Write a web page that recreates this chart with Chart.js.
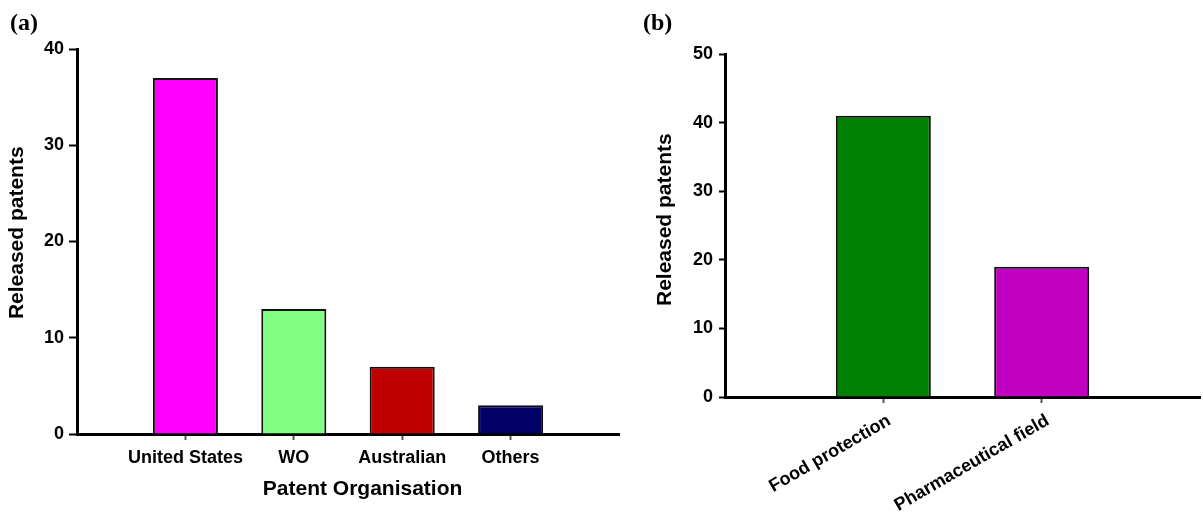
<!DOCTYPE html>
<html>
<head>
<meta charset="utf-8">
<script src="https://cdn.jsdelivr.net/npm/chart.js@4.4.1/dist/chart.umd.min.js"></script>
<style>
    body { margin: 0; background: #fff; }
    #wrap { position: relative; width: 1203px; height: 517px; overflow: hidden; }
    canvas { position: absolute; top: 0; }
    #chart-a { left: 0; }
    #chart-b { left: 640px; }
    .panel { position: absolute; top: 10px; font: bold 24px "Liberation Serif", "Times New Roman", serif; line-height: 24px; }
</style>
</head>
<body>
<div id="wrap">
    <canvas id="chart-a" width="640" height="517"></canvas>
    <canvas id="chart-b" width="563" height="517"></canvas>
    <div class="panel" style="left: 10px;">(a)</div>
    <div class="panel" style="left: 643px;">(b)</div>
</div>
<script>
var orgLabels = ["United States", "WO", "Australian", "Others"];
var orgValues = [37, 13, 7, 3];
var orgColors = ["#FF00FF", "#80FF80", "#C00000", "#000066"];

var fieldLabels = ["Food protection", "Pharmaceutical field"];
var fieldValues = [41, 19];
var fieldColors = ["#008000", "#C000C0"];

var font = "'Liberation Sans', Arial, sans-serif";

// blank slot before and after so the bars sit away from the axis ends
function padded(arr, blank) {
    return [blank].concat(arr, [blank]);
}

function hideBlankTick(ctx) {
    return (ctx.tick && ctx.tick.label) ? "#555" : "rgba(0,0,0,0)";
}

function makeChart(id, labels, values, colors, opts) {
    return new Chart(document.getElementById(id), {
        type: 'bar',
        data: {
            labels: padded(labels, ""),
            datasets: [{
                data: padded(values, null),
                backgroundColor: padded(colors, "#fff"),
                borderColor: "#111",
                borderWidth: 2,
                categoryPercentage: 1,
                barPercentage: 0.6
            }]
        },
        options: {
            responsive: false,
            animation: false,
            layout: {padding: opts.padding},
            plugins: {legend: {display: false}, tooltip: {enabled: false}},
            scales: {
                x: {
                    offset: false,
                    grid: {offset: false, drawOnChartArea: false, tickLength: 6, tickWidth: 2, tickColor: hideBlankTick},
                    border: {color: "#000", width: 3},
                    ticks: {
                        autoSkip: false,
                        color: "#000",
                        padding: 7,
                        labelOffset: opts.labelOffset || 0,
                        minRotation: opts.rotation,
                        maxRotation: opts.rotation,
                        font: {family: font, size: 18, weight: 'bold'}
                    },
                    title: opts.xTitle ? {
                        display: true,
                        text: opts.xTitle,
                        color: "#000",
                        padding: {top: 0, bottom: 15},
                        font: {family: font, size: 21, weight: 'bold'}
                    } : {display: false},
                    afterFit: function (scale) {
                        scale.height = opts.xHeight;
                        scale.paddingLeft = 0;
                        scale.paddingRight = 0;
                    }
                },
                y: {
                    min: 0,
                    max: opts.yMax,
                    grid: {drawOnChartArea: false, tickLength: opts.yTick, tickWidth: 2, tickColor: "#000"},
                    border: {color: "#000", width: 3},
                    ticks: {
                        stepSize: 10,
                        color: "#000",
                        padding: opts.yPad,
                        font: {family: font, size: 18, weight: 'bold'}
                    },
                    title: {
                        display: true,
                        text: opts.yTitle,
                        color: "#000",
                        padding: {top: opts.yTitlePad, bottom: 0},
                        font: {family: font, size: 21, weight: 'bold'}
                    },
                    afterFit: function (scale) { scale.width = opts.yWidth; }
                }
            }
        }
    });
}

var chartA = makeChart("chart-a", orgLabels, orgValues, orgColors, {
    padding: {top: 49, right: 21, bottom: 0, left: 0},
    xHeight: 83,
    yWidth: 77,
    yMax: 40,
    yTick: 8,
    yPad: 5,
    yTitlePad: 5,
    rotation: 0,
    xTitle: "     Patent Organisation",
    yTitle: "   Released patents"
});

var chartB = makeChart("chart-b", fieldLabels, fieldValues, fieldColors, {
    padding: {top: 54, right: 3, bottom: 0, left: 0},
    xHeight: 120,
    yWidth: 85,
    yMax: 50,
    yTick: 6,
    yPad: 6,
    yTitlePad: 13,
    rotation: 30,
    labelOffset: 6,
    yTitle: "  Released patents"
});
</script>
</body>
</html>
